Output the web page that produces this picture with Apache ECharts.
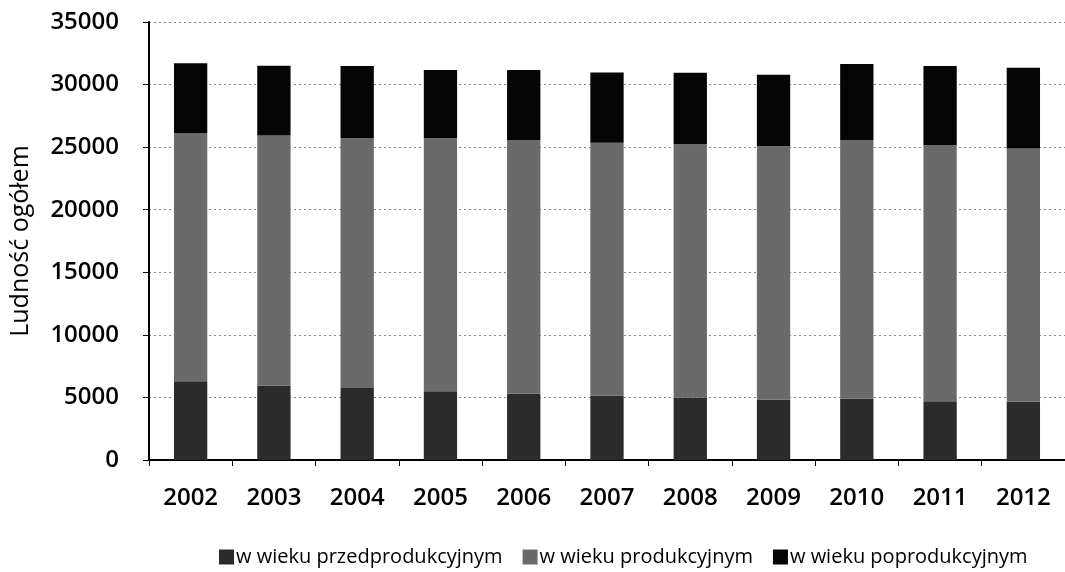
<!DOCTYPE html>
<html>
<head>
<meta charset="utf-8">
<script src="https://cdn.jsdelivr.net/npm/echarts@6/dist/echarts.min.js"></script>
<style>
  html, body { margin: 0; padding: 0; background: #fff; }
  #chart { width: 1065px; height: 572px; }
</style>
</head>
<body>
<div id="chart"></div>
<script>
// lata i grupy wieku
const years = ["2002", "2003", "2004", "2005", "2006", "2007", "2008", "2009", "2010", "2011", "2012"];
const seriesNames = ["w wieku przedprodukcyjnym", "w wieku produkcyjnym", "w wieku poprodukcyjnym"];
const preProd = [6300, 5960, 5750, 5500, 5300, 5160, 4980, 4810, 4890, 4700, 4680];
const prod = [19840, 19980, 19970, 20220, 20260, 20190, 20260, 20270, 20670, 20460, 20220];
const postProd = [5560, 5560, 5760, 5440, 5600, 5610, 5700, 5700, 6080, 6320, 6440];
const colors = ["#2b2b2b", "#6a6a6a", "#050505"];

const font = "Open Sans";
const chart = echarts.init(document.getElementById("chart"));

const mk = (name, data, color) => ({
  name: name,
  type: "bar",
  stack: "total",
  data: data,
  barWidth: "40%",
  itemStyle: { color: color },
});

let option = {
  animation: false,
  grid: { left: 142, width: 931, top: 22, height: 438 },
  legend: {
    top: 542,
    left: 214,
    width: 851,
    itemWidth: 15,
    itemHeight: 15,
    itemGap: 20,
    icon: "rect",
    textStyle: { fontFamily: font, fontSize: 20, color: "#000", padding: [0, 0, 0, -3] },
    data: seriesNames,
  },
  xAxis: {
    type: "category",
    data: years,
    axisLine: { lineStyle: { color: "#000", width: 2 } },
    axisTick: { show: true, length: 6, lineStyle: { color: "#000" } },
    axisLabel: { fontFamily: font, fontSize: 24, fontWeight: 600, color: "#000", margin: 26 },
  },
  yAxis: {
    type: "value",
    min: 0,
    max: 35000,
    interval: 5000,
    name: "Ludność ogółem",
    nameLocation: "middle",
    nameGap: 116,
    nameTextStyle: { fontFamily: font, fontSize: 25, color: "#000" },
    axisLine: { show: true, lineStyle: { color: "#000", width: 2 } },
    axisTick: { show: true, length: 6, lineStyle: { color: "#000" } },
    axisLabel: {
      fontFamily: font,
      fontSize: 24,
      fontWeight: 600,
      color: "#000",
      margin: 30,
      formatter: (v) => String(v),
    },
    splitLine: { lineStyle: { color: "#888", type: [2, 3] } },
  },
  series: [
    mk(seriesNames[0], preProd, colors[0]),
    mk(seriesNames[1], prod, colors[1]),
    mk(seriesNames[2], postProd, colors[2]),
  ],
};

chart.setOption(option);
window.addEventListener("resize", () => chart.resize());
</script>
</body>
</html>
